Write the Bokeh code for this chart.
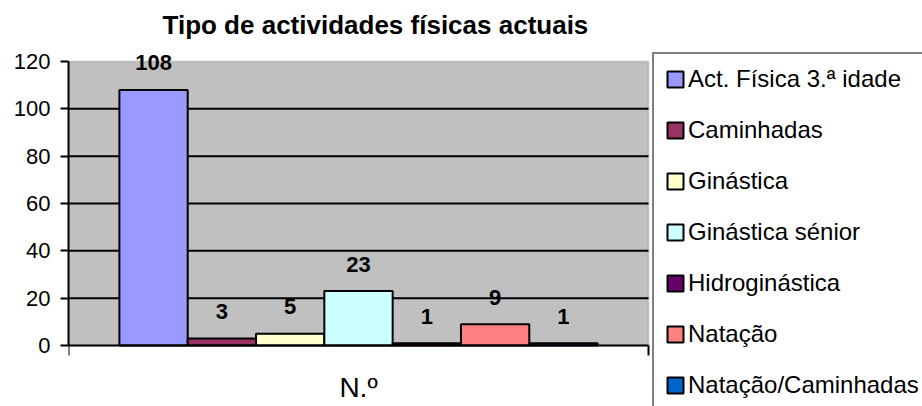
from bokeh.plotting import figure
from bokeh.models import (ColumnDataSource, Legend, LegendItem, FixedTicker, Range1d, Title,
                          BoxAnnotation)
from bokeh.embed import file_html
from bokeh.resources import INLINE
from bokeh.core.properties import value

# ---- data ----
category_label = "N.º"
activities = ["Act. Física 3.ª idade", "Caminhadas", "Ginástica", "Ginástica sénior",
              "Hidroginástica", "Natação", "Natação/Caminhadas"]
counts = [108, 3, 5, 23, 1, 9, 1]
y_ticks = [0, 20, 40, 60, 80, 100, 120]
title_text = "Tipo de actividades físicas actuais"

# ---- styles ----
palette = ["#9999FF", "#993366", "#FFFFCC", "#CCFFFF", "#660066", "#FF8080", "#0066CC"]
FONT = "Liberation Sans"

n = len(activities)
idx = list(range(n))
src = ColumnDataSource(dict(x=idx, top=counts, name=activities, color=palette,
                            label=[str(c) for c in counts]))

# ---- layout (pixels) ----
W, H = 922, 406
frame_left, frame_top = 68, 45
plot_right_px = 648      # right edge of grey plot area
zero_px = 345            # pixel row of y = 0
top_px = 61              # pixel row of y = 120

gap = 0.745
x_start = -0.5 - gap
x_end = n - 0.5 + gap
x_far = x_start + (x_end - x_start) * (W - frame_left) / (plot_right_px - frame_left)

ymax = y_ticks[-1]
ppu = (zero_px - top_px) / ymax
y_hi = (zero_px - frame_top) / ppu
y_lo = -(H - zero_px) / ppu

p = figure(width=W, height=H, output_backend="svg", toolbar_location=None,
           x_range=Range1d(x_start, x_far), y_range=Range1d(y_lo, y_hi),
           min_border_left=frame_left, min_border_right=0, min_border_top=frame_top,
           min_border_bottom=0)

p.title = Title(text=title_text, align="left", offset=94, text_font=FONT,
                text_font_size="26px", text_font_style="bold", text_color="black", standoff=11)

p.background_fill_color = "white"
p.border_fill_color = "white"
p.outline_line_color = None
p.xgrid.grid_line_color = None
p.ygrid.grid_line_color = None

# grey plot area with grey border
p.add_layout(BoxAnnotation(left=x_start, right=x_end, bottom=0, top=ymax,
                           fill_color="#C0C0C0", fill_alpha=1,
                           line_color="#808080", line_width=2, level="image"))

# horizontal grid lines
grid_vals = y_ticks[1:-1]
p.segment(x0=[x_start] * len(grid_vals), x1=[x_end] * len(grid_vals),
          y0=grid_vals, y1=grid_vals, line_color="black", line_width=2)

r = p.vbar(x="x", top="top", bottom=0, width=1, source=src, fill_color="color",
           line_color="black", line_width=2)

p.text(x="x", y="top", text="label", source=src, text_align="center", text_baseline="middle",
       y_offset=-27, text_font=value(FONT), text_font_style="bold", text_font_size="22px",
       text_color="black")

# y axis
p.yaxis.bounds = (0, ymax)
p.yaxis.ticker = FixedTicker(ticks=y_ticks)
p.yaxis.major_tick_out = 8
p.yaxis.major_tick_in = 0
p.yaxis.minor_tick_line_color = None
p.yaxis.axis_line_width = 2
p.yaxis.axis_line_color = "black"
p.yaxis.major_tick_line_width = 2
p.yaxis.major_label_text_font = FONT
p.yaxis.major_label_text_font_size = "22px"
p.yaxis.major_label_text_color = "black"
p.yaxis.major_label_standoff = 10

# x axis: category label at group centre, boundary ticks as minor ticks
centre = (n - 1) / 2
p.xaxis.fixed_location = 0
p.xaxis.bounds = (x_start, x_end)
p.xaxis.ticker = FixedTicker(ticks=[centre], minor_ticks=[x_start, x_end])
p.xaxis.major_label_overrides = {centre: category_label}
p.xaxis.major_tick_line_color = None
p.xaxis.major_tick_out = 0
p.xaxis.major_tick_in = 0
p.xaxis.minor_tick_out = 10
p.xaxis.minor_tick_in = 0
p.xaxis.minor_tick_line_width = 2
p.xaxis.minor_tick_line_color = "black"
p.xaxis.axis_line_width = 2
p.xaxis.axis_line_color = "black"
p.xaxis.major_label_text_font = FONT
p.xaxis.major_label_text_font_size = "28px"
p.xaxis.major_label_text_color = "black"
p.xaxis.major_label_standoff = 16

# legend
legend_left, legend_top = 652, 50
pad, lab_h, spc = 11, 28, 23
leg_h = 2 * pad + n * lab_h + (n - 1) * spc + 6
items = [LegendItem(label=a, renderers=[r], index=i) for i, a in enumerate(activities)]
legend = Legend(items=items,
                location=(legend_left - frame_left, H - legend_top - leg_h),
                glyph_width=20, glyph_height=20,
                label_standoff=3, label_height=lab_h, spacing=spc, padding=pad, margin=0,
                border_line_color="black", border_line_width=2,
                background_fill_color="white", background_fill_alpha=1,
                label_text_font=FONT, label_text_font_size="24px", label_text_color="black")
p.add_layout(legend, "center")

open("out.html", "w").write(file_html(p, INLINE))
